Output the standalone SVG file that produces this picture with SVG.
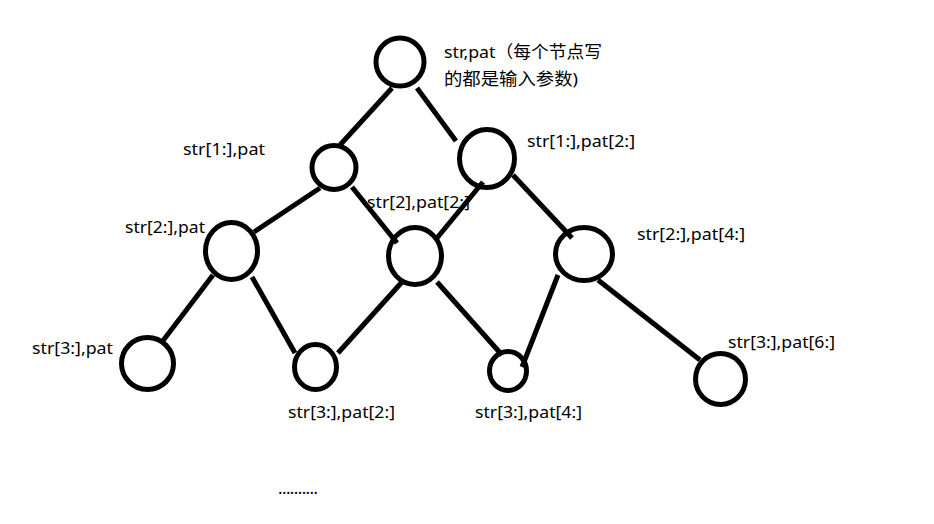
<svg xmlns="http://www.w3.org/2000/svg" width="934" height="524" viewBox="0 0 934 524">
<style>
.n{fill:none;stroke:#000;stroke-width:5}
.c line{stroke:#000;stroke-width:5;stroke-linecap:butt}
text{font-family:"Noto Sans","Noto Sans CJK SC",sans-serif;font-size:17px;fill:#000}
</style>
<rect width="934" height="524" fill="#fff"/>
<g id="connectors" class="c">
<line x1="392" y1="88" x2="340" y2="145"/>
<line x1="417" y1="88" x2="456" y2="141"/>
<line x1="320" y1="188" x2="254" y2="232"/>
<line x1="352" y1="187" x2="397" y2="243"/>
<line x1="483" y1="182" x2="437" y2="238"/>
<line x1="513" y1="175" x2="572" y2="238"/>
<line x1="213" y1="275" x2="162" y2="342"/>
<line x1="252" y1="277" x2="295" y2="353"/>
<line x1="402" y1="282" x2="338" y2="353"/>
<line x1="437" y1="282" x2="502" y2="355"/>
<line x1="558" y1="275" x2="522" y2="367"/>
<line x1="598" y1="280" x2="700" y2="360"/>
</g>
<g id="root">
<ellipse class="n" cx="400" cy="62" rx="24" ry="24"/>
<text x="444" y="58" textLength="158" lengthAdjust="spacingAndGlyphs">str,pat（每个节点写</text>
<text x="444" y="85" textLength="134" lengthAdjust="spacingAndGlyphs">的都是输入参数)</text>
</g>
<g id="n1l">
<ellipse class="n" cx="334" cy="167.5" rx="22" ry="22"/>
<text x="183" y="155" textLength="82" lengthAdjust="spacingAndGlyphs">str[1:],pat</text>
</g>
<g id="n1r">
<ellipse class="n" cx="487" cy="158.5" rx="27.5" ry="29"/>
<text x="527" y="147" textLength="108" lengthAdjust="spacingAndGlyphs">str[1:],pat[2:]</text>
</g>
<g id="n2l">
<ellipse class="n" cx="231.5" cy="251" rx="26" ry="28.5"/>
<text x="125" y="233" textLength="80" lengthAdjust="spacingAndGlyphs">str[2:],pat</text>
</g>
<g id="n2m">
<ellipse class="n" cx="415" cy="256" rx="26.5" ry="28.5"/>
<text x="367" y="208" textLength="103" lengthAdjust="spacingAndGlyphs">str[2],pat[2:]</text>
</g>
<g id="n2r">
<ellipse class="n" cx="584" cy="254" rx="28.5" ry="26.5"/>
<text x="637" y="240" textLength="108" lengthAdjust="spacingAndGlyphs">str[2:],pat[4:]</text>
</g>
<g id="n3a">
<ellipse class="n" cx="147.5" cy="363.5" rx="26" ry="26"/>
<text x="32" y="354" textLength="81" lengthAdjust="spacingAndGlyphs">str[3:],pat</text>
</g>
<g id="n3b">
<ellipse class="n" cx="315.5" cy="367" rx="21" ry="22.5"/>
<text x="288" y="418" textLength="107" lengthAdjust="spacingAndGlyphs">str[3:],pat[2:]</text>
</g>
<g id="n3c">
<ellipse class="n" cx="508" cy="371" rx="18.5" ry="19.5"/>
<text x="475" y="418" textLength="107" lengthAdjust="spacingAndGlyphs">str[3:],pat[4:]</text>
</g>
<g id="n3d">
<ellipse class="n" cx="720.5" cy="379" rx="25" ry="25.5"/>
<text x="728" y="348" textLength="107" lengthAdjust="spacingAndGlyphs">str[3:],pat[6:]</text>
</g>
<text x="278" y="494" textLength="40" lengthAdjust="spacing">..........</text>
</svg>
